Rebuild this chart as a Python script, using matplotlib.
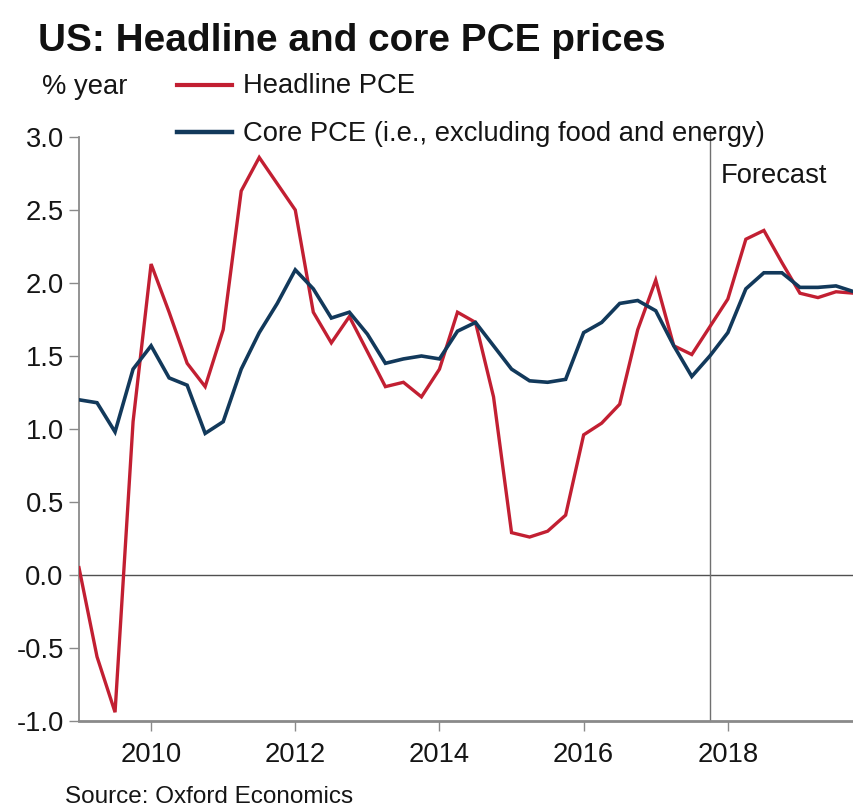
import numpy as np
import pandas as pd
import matplotlib
matplotlib.use("Agg")
import matplotlib.pyplot as plt
from matplotlib import font_manager

# quarterly, 2009Q1 .. 2019Q4 (forecast from 2017Q4)
quarters = pd.period_range("2009Q1", "2019Q4", freq="Q")
headline = [0.05, -0.56, -0.94, 1.05, 2.13, 1.80, 1.45, 1.29,
            1.68, 2.63, 2.86, 2.68, 2.50, 1.80, 1.59, 1.77,
            1.53, 1.29, 1.32, 1.22, 1.41, 1.80, 1.73, 1.22,
            0.29, 0.26, 0.30, 0.41, 0.96, 1.04, 1.17, 1.68,
            2.02, 1.57, 1.51, 1.70, 1.89, 2.30, 2.36, 2.14,
            1.93, 1.90, 1.94, 1.93]
core = [1.20, 1.18, 0.98, 1.41, 1.57, 1.35, 1.30, 0.97,
        1.05, 1.41, 1.66, 1.86, 2.09, 1.96, 1.76, 1.80,
        1.65, 1.45, 1.48, 1.50, 1.48, 1.67, 1.73, 1.57,
        1.41, 1.33, 1.32, 1.34, 1.66, 1.73, 1.86, 1.88,
        1.81, 1.57, 1.36, 1.50, 1.66, 1.96, 2.07, 2.07,
        1.97, 1.97, 1.98, 1.94]
forecast_start = 2017.75
year_ticks = [2010, 2012, 2014, 2016, 2018]
y_ticks = [-1.0, -0.5, 0.0, 0.5, 1.0, 1.5, 2.0, 2.5, 3.0]

RED = "#c21f32"
NAVY = "#12395b"
GREY = "#8a8a8a"
INK = "#151515"

names = {f.name for f in font_manager.fontManager.ttflist}
if "Liberation Sans Narrow" in names:
    FONT = "Liberation Sans Narrow"
    k = 1.0
else:
    FONT = "Liberation Sans"
    k = 0.82
plt.rcParams["font.family"] = [FONT, "DejaVu Sans"]
plt.rcParams["axes.unicode_minus"] = False

x = quarters.year + (quarters.quarter - 1) / 4.0

W, H = 854, 810
fig = plt.figure(figsize=(W / 100, H / 100), dpi=100)
ax = fig.add_axes([79 / W, 1 - 721 / H, 1 - 79 / W, (721 - 137) / H])

ax.axhline(0, color="#505050", lw=1.0, zorder=1)
ax.axvline(forecast_start, ymax=1.01, color="#707070", lw=1.0, zorder=1, clip_on=False)
ax.plot(x, headline, color=RED, lw=2.4, zorder=3, solid_joinstyle="miter")
ax.plot(x, core, color=NAVY, lw=2.6, zorder=4, solid_joinstyle="miter")

ax.set_xlim(2009, 2019.75)
ax.set_ylim(-1.0, 3.0)
ax.set_xticks(year_ticks)
ax.set_xticklabels([str(v) for v in year_ticks])
ax.set_yticks(y_ticks)
ax.set_yticklabels(["%.1f" % v for v in y_ticks])

for s in ["top", "right"]:
    ax.spines[s].set_visible(False)
ax.spines["left"].set_color(GREY)
ax.spines["left"].set_linewidth(1.3)
ax.spines["bottom"].set_color(GREY)
ax.spines["bottom"].set_linewidth(2.0)
ax.tick_params(axis="x", direction="out", length=7, width=1, color=GREY,
               labelsize=24 * k, pad=8, colors=INK)
ax.tick_params(axis="y", direction="out", length=7, width=1, color=GREY,
               labelsize=24 * k, pad=4, colors=INK)
for t in ax.get_xticklines() + ax.get_yticklines():
    t.set_color(GREY)

ax.text(forecast_start + 0.15, 2.73, "Forecast", fontsize=24 * k,
        va="center", ha="left", color=INK)

# title and header texts
fig.text(38 / W, 1 - 51 / H, "US: Headline and core PCE prices",
         fontsize=34 * k, fontweight="bold", color="#111111", va="baseline")
fig.text(42 / W, 1 - 94 / H, "% year", fontsize=24 * k, color=INK, va="baseline")

# legend drawn by hand
fig.add_artist(plt.Line2D([177 / W, 232 / W], [1 - 85 / H, 1 - 85 / H], color=RED, lw=3))
fig.add_artist(plt.Line2D([177 / W, 232 / W], [1 - 132 / H, 1 - 132 / H], color=NAVY, lw=3.2))
fig.text(243 / W, 1 - 93 / H, "Headline PCE", fontsize=24 * k, color=INK, va="baseline")
fig.text(243 / W, 1 - 141 / H, "Core PCE (i.e., excluding food and energy)",
         fontsize=24 * k, color=INK, va="baseline")

fig.text(65 / W, 1 - 803 / H, "Source: Oxford Economics", fontsize=21.3 * k,
         color=INK, va="baseline")

fig.savefig("out.png", dpi=100)
